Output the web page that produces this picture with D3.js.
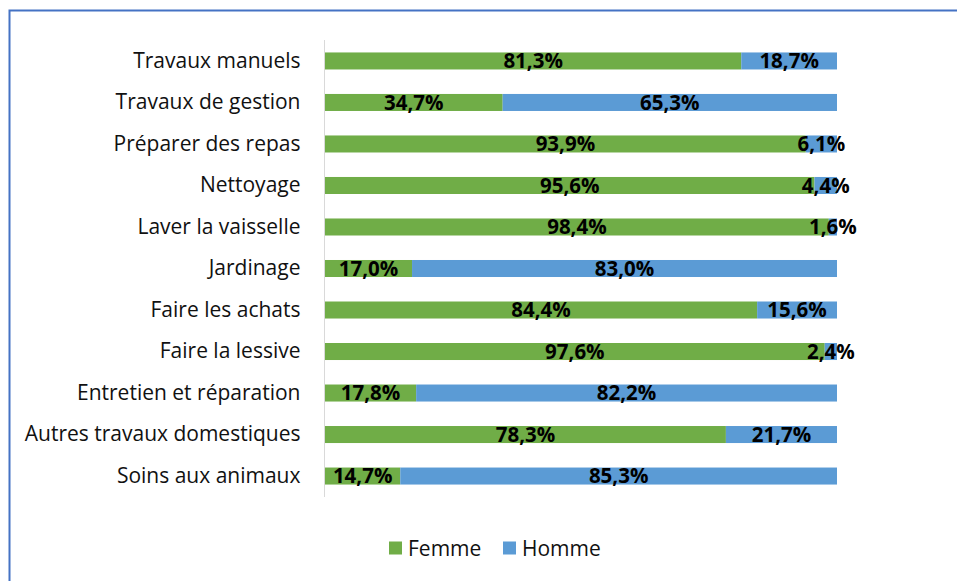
<!DOCTYPE html>
<html>
<head>
<meta charset="utf-8">
<script src="https://cdn.jsdelivr.net/npm/d3@7"></script>
<style>
	body { margin: 0; background: #fff; }
	svg { display: block; font-family: 'Open Sans', sans-serif; }
</style>
</head>
<body>
<svg id="viz" width="957" height="581"></svg>
<script>
var categories = [
	'Travaux manuels', 'Travaux de gestion', 'Préparer des repas', 'Nettoyage',
	'Laver la vaisselle', 'Jardinage', 'Faire les achats', 'Faire la lessive',
	'Entretien et réparation', 'Autres travaux domestiques', 'Soins aux animaux'
];
var femme = [ 81.3, 34.7, 93.9, 95.6, 98.4, 17.0, 84.4, 97.6, 17.8, 78.3, 14.7 ];
var homme = [ 18.7, 65.3, 6.1, 4.4, 1.6, 83.0, 15.6, 2.4, 82.2, 21.7, 85.3 ];
var seriesNames = [ 'Femme', 'Homme' ];

var colors = { Femme: '#70AD47', Homme: '#5B9BD5' };

var svg = d3.select( '#viz' );

// chart frame
svg.append( 'rect' )
	.attr( 'x', 9.5 ).attr( 'y', 10.5 )
	.attr( 'width', 1000 ).attr( 'height', 1000 )
	.attr( 'fill', 'none' )
	.attr( 'stroke', '#4472C4' )
	.attr( 'stroke-width', 2 );

var rows = categories.map( function ( c, i ) {
	return { cat: c, Femme: femme[i], Homme: homme[i] };
} );
var stacked = d3.stack().keys( seriesNames )( rows );

var x = d3.scaleLinear().domain( [ 0, 100 ] ).range( [ 325, 837 ] );
var y = d3.scaleBand().domain( categories ).range( [ 40, 497 ] ).paddingInner( 0.59 ).paddingOuter( 0.3 );

var fmt = function ( v ) { return v.toFixed( 1 ).replace( '.', ',' ) + '%'; };

var groups = svg.selectAll( 'g.series' )
	.data( stacked )
	.enter()
	.append( 'g' )
	.classed( 'series', true )
	.attr( 'fill', function ( d ) { return colors[d.key]; } );

groups.selectAll( 'rect' )
	.data( function ( d ) { return d; } )
	.enter()
	.append( 'rect' )
	.attr( 'x', function ( d ) { return x( d[0] ); } )
	.attr( 'y', function ( d ) { return y( d.data.cat ); } )
	.attr( 'width', function ( d ) { return x( d[1] ) - x( d[0] ); } )
	.attr( 'height', y.bandwidth() );

// category axis
var yAxis = svg.append( 'g' )
	.attr( 'transform', 'translate(324.5,0)' )
	.call( d3.axisLeft( y ).tickSize( 0 ).tickPadding( 24 ) );
yAxis.select( '.domain' ).attr( 'stroke', '#D9D9D9' ).attr( 'd', 'M0,40V497' );
yAxis.selectAll( 'text' )
	.attr( 'font-size', 21 )
	.attr( 'font-family', "'Open Sans', sans-serif" )
	.attr( 'fill', '#111' );

// value labels
groups.each( function ( s ) {
	d3.select( this ).selectAll( 'text' )
		.data( s )
		.enter()
		.append( 'text' )
		.attr( 'x', function ( d ) { return ( x( d[0] ) + x( d[1] ) ) / 2; } )
		.attr( 'y', function ( d ) { return y( d.data.cat ) + y.bandwidth() / 2; } )
		.attr( 'dy', '0.36em' )
		.attr( 'text-anchor', 'middle' )
		.attr( 'font-size', 20.5 )
		.attr( 'font-weight', 'bold' )
		.attr( 'fill', '#000' )
		.text( function ( d ) { return fmt( d[1] - d[0] ); } );
} );

// legend
var legend = svg.append( 'g' ).attr( 'transform', 'translate(389,548.5)' );
var legendX = [ 0, 114 ];
seriesNames.forEach( function ( name, i ) {
	var g = legend.append( 'g' ).attr( 'transform', 'translate(' + legendX[i] + ',0)' );
	g.append( 'rect' )
		.attr( 'x', 0 ).attr( 'y', -7 )
		.attr( 'width', 13 ).attr( 'height', 13 )
		.attr( 'fill', colors[name] );
	g.append( 'text' )
		.attr( 'x', 19 ).attr( 'y', 0 )
		.attr( 'dy', '0.36em' )
		.attr( 'font-size', 21 )
		.attr( 'fill', '#111' )
		.text( name );
} );
</script>
</body>
</html>
